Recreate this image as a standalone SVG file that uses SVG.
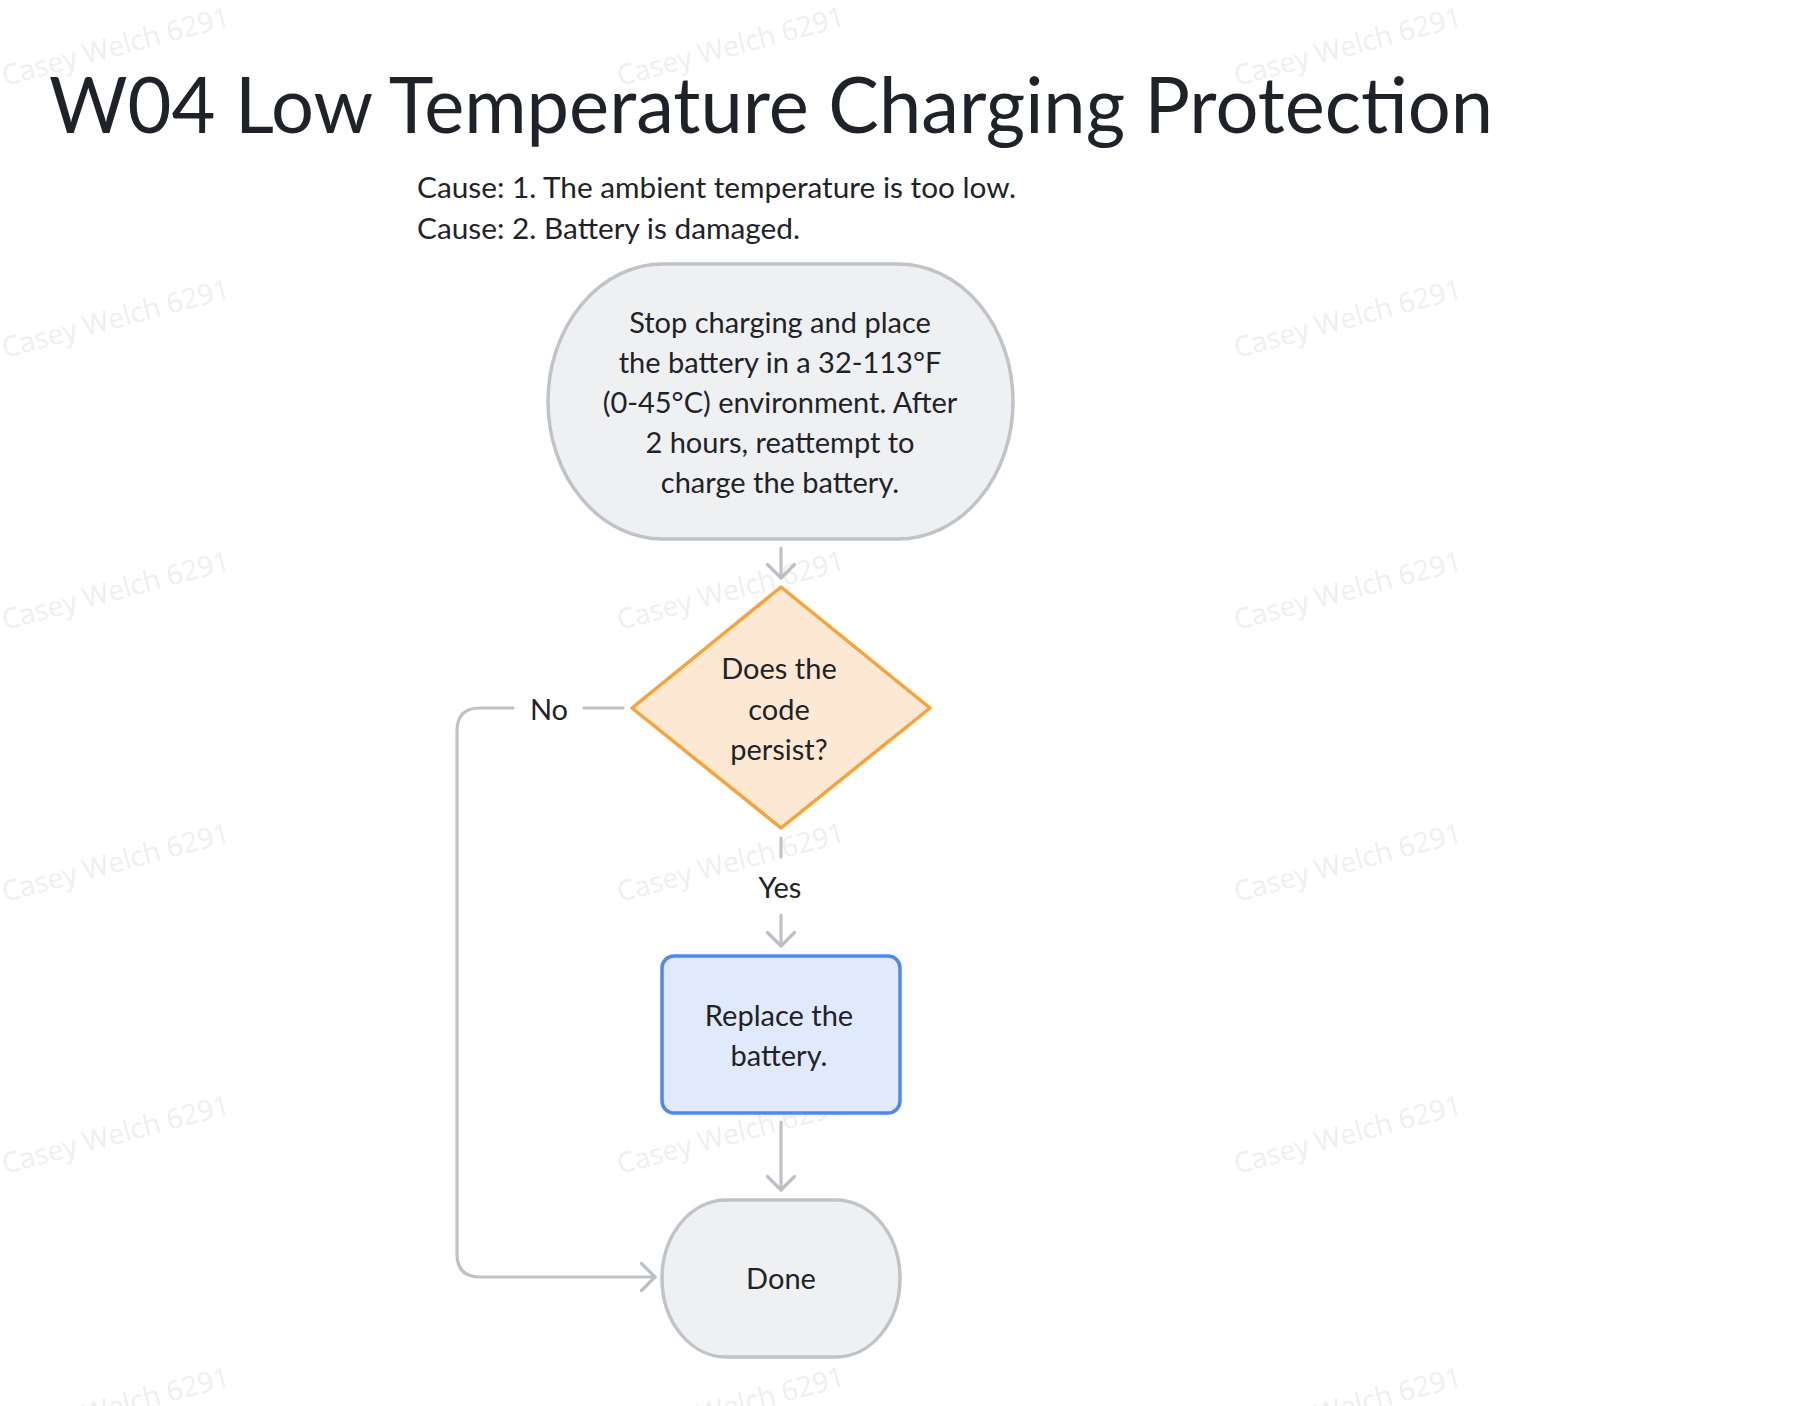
<svg xmlns="http://www.w3.org/2000/svg" width="1818" height="1406" viewBox="0 0 1818 1406">
<style>
.wm{font-family:"Open Sans","Noto Sans",sans-serif;font-size:28px;fill:#edeff2}
.t{font-family:Lato,"Noto Sans",sans-serif;fill:#1f2329}
.n{font-size:29px;text-anchor:middle}
.edge{fill:none;stroke:#bfc2c7;stroke-width:3.2;stroke-linecap:round;stroke-linejoin:round}
.term{fill:#eff0f2;stroke:#c0c3c8;stroke-width:3.5}
</style>
<defs>
<marker id="arr" viewBox="-16 -16 32 32" refX="0" refY="0" markerWidth="32" markerHeight="32" markerUnits="userSpaceOnUse" orient="auto" overflow="visible">
<path d="M-13.5,-13.5 L0,0 L-13.5,13.5" fill="none" stroke="#bcc0c5" stroke-width="3.2" stroke-linecap="round" stroke-linejoin="round"/>
</marker>
</defs>
<rect width="1818" height="1406" fill="#ffffff"/>
<g id="watermarks">
<text class="wm" transform="translate(5,86) rotate(-15)">Casey Welch 6291</text>
<text class="wm" transform="translate(620,86) rotate(-15)">Casey Welch 6291</text>
<text class="wm" transform="translate(1237,86) rotate(-15)">Casey Welch 6291</text>
<text class="wm" transform="translate(5,358) rotate(-15)">Casey Welch 6291</text>
<text class="wm" transform="translate(620,358) rotate(-15)">Casey Welch 6291</text>
<text class="wm" transform="translate(1237,358) rotate(-15)">Casey Welch 6291</text>
<text class="wm" transform="translate(5,630) rotate(-15)">Casey Welch 6291</text>
<text class="wm" transform="translate(620,630) rotate(-15)">Casey Welch 6291</text>
<text class="wm" transform="translate(1237,630) rotate(-15)">Casey Welch 6291</text>
<text class="wm" transform="translate(5,902) rotate(-15)">Casey Welch 6291</text>
<text class="wm" transform="translate(620,902) rotate(-15)">Casey Welch 6291</text>
<text class="wm" transform="translate(1237,902) rotate(-15)">Casey Welch 6291</text>
<text class="wm" transform="translate(5,1174) rotate(-15)">Casey Welch 6291</text>
<text class="wm" transform="translate(620,1174) rotate(-15)">Casey Welch 6291</text>
<text class="wm" transform="translate(1237,1174) rotate(-15)">Casey Welch 6291</text>
<text class="wm" transform="translate(5,1446) rotate(-15)">Casey Welch 6291</text>
<text class="wm" transform="translate(620,1446) rotate(-15)">Casey Welch 6291</text>
<text class="wm" transform="translate(1237,1446) rotate(-15)">Casey Welch 6291</text>
</g>
<g id="title">
<text class="t" x="49" y="133" font-size="77" textLength="1444" lengthAdjust="spacingAndGlyphs">W04 Low Temperature Charging Protection</text>
</g>
<g id="causes">
<text class="t" x="417" y="198" font-size="29" textLength="599" lengthAdjust="spacingAndGlyphs">Cause: 1. The ambient temperature is too low.</text>
<text class="t" x="417" y="239" font-size="29" textLength="383" lengthAdjust="spacingAndGlyphs">Cause: 2. Battery is damaged.</text>
</g>
<g id="connectors">
<path class="edge" d="M781,548 L781,578" marker-end="url(#arr)"/>
<path class="edge" d="M781,838 L781,857"/>
<path class="edge" d="M781,915 L781,946" marker-end="url(#arr)"/>
<path class="edge" d="M623,708 L584,708"/>
<path class="edge" d="M513,708 L480,708 Q457,708 457,731 L457,1254 Q457,1277 480,1277 L655,1277" marker-end="url(#arr)"/>
<path class="edge" d="M781,1122 L781,1190" marker-end="url(#arr)"/>
<text class="t n" x="549" y="720">No</text>
<text class="t n" x="780" y="898">Yes</text>
</g>
<g id="node-stop">
<rect class="term" x="548" y="264" width="465" height="275" rx="115" ry="137.5"/>
<text class="t n" x="780" y="333">Stop charging and place</text>
<text class="t n" x="780" y="373">the battery in a 32-113°F</text>
<text class="t n" x="780" y="413">(0-45°C) environment. After</text>
<text class="t n" x="780" y="453">2 hours, reattempt to</text>
<text class="t n" x="780" y="493">charge the battery.</text>
</g>
<g id="node-decision">
<polygon points="781,587 930,708 781,828 632,708" fill="#fde9d3" stroke="#f8a23a" stroke-width="3.5" stroke-linejoin="round"/>
<text class="t n" x="779" y="679">Does the</text>
<text class="t n" x="779" y="720">code</text>
<text class="t n" x="779" y="760">persist?</text>
</g>
<g id="node-replace">
<rect x="662" y="956" width="238" height="157" rx="12" fill="#e1e9fd" stroke="#4f87f3" stroke-width="3.5"/>
<text class="t n" x="779" y="1026">Replace the</text>
<text class="t n" x="779" y="1066">battery.</text>
</g>
<g id="node-done">
<rect class="term" x="662" y="1200" width="238" height="157" rx="64" ry="78.5"/>
<text class="t n" x="781" y="1289">Done</text>
</g>
</svg>
